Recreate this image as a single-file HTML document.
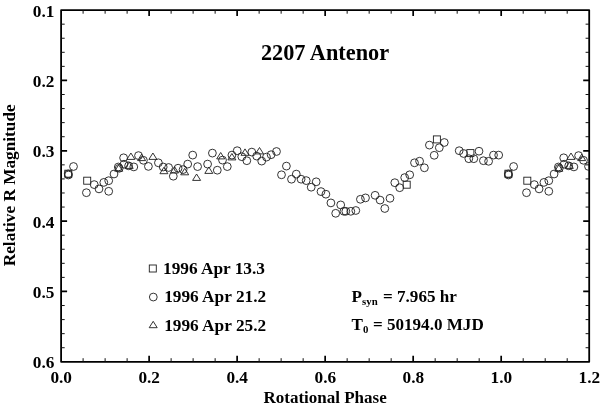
<!DOCTYPE html>
<html lang="en">
<head>
<meta charset="utf-8">
<title>2207 Antenor</title>
<style>
html,body{margin:0;padding:0;background:#fff;}
body{width:600px;height:408px;overflow:hidden;}
svg{display:block;}
</style>
</head>
<body>
<svg width="600" height="408" viewBox="0 0 600 408">
<rect width="600" height="408" fill="#fff"/>
<rect x="61.1" y="10.1" width="528.1" height="351.7" fill="none" stroke="#000" stroke-width="1.8" stroke-linejoin="round"/>
<path d="M149.12 361.8v-6.0M149.12 10.1v6.0M237.13 361.8v-6.0M237.13 10.1v6.0M325.15 361.8v-6.0M325.15 10.1v6.0M413.17 361.8v-6.0M413.17 10.1v6.0M501.18 361.8v-6.0M501.18 10.1v6.0M61.1 80.44h6.0M589.2 80.44h-6.0M61.1 150.78h6.0M589.2 150.78h-6.0M61.1 221.12h6.0M589.2 221.12h-6.0M61.1 291.46h6.0M589.2 291.46h-6.0" stroke="#000" stroke-width="1.7" fill="none"/><path d="M83.10 361.8v-3.6M83.10 10.1v3.6M105.11 361.8v-3.6M105.11 10.1v3.6M127.11 361.8v-3.6M127.11 10.1v3.6M171.12 361.8v-3.6M171.12 10.1v3.6M193.12 361.8v-3.6M193.12 10.1v3.6M215.13 361.8v-3.6M215.13 10.1v3.6M259.14 361.8v-3.6M259.14 10.1v3.6M281.14 361.8v-3.6M281.14 10.1v3.6M303.15 361.8v-3.6M303.15 10.1v3.6M347.15 361.8v-3.6M347.15 10.1v3.6M369.16 361.8v-3.6M369.16 10.1v3.6M391.16 361.8v-3.6M391.16 10.1v3.6M435.17 361.8v-3.6M435.17 10.1v3.6M457.18 361.8v-3.6M457.18 10.1v3.6M479.18 361.8v-3.6M479.18 10.1v3.6M523.19 361.8v-3.6M523.19 10.1v3.6M545.19 361.8v-3.6M545.19 10.1v3.6M567.20 361.8v-3.6M567.20 10.1v3.6M61.1 24.17h3.6M589.2 24.17h-3.6M61.1 38.24h3.6M589.2 38.24h-3.6M61.1 52.30h3.6M589.2 52.30h-3.6M61.1 66.37h3.6M589.2 66.37h-3.6M61.1 94.51h3.6M589.2 94.51h-3.6M61.1 108.58h3.6M589.2 108.58h-3.6M61.1 122.64h3.6M589.2 122.64h-3.6M61.1 136.71h3.6M589.2 136.71h-3.6M61.1 164.85h3.6M589.2 164.85h-3.6M61.1 178.92h3.6M589.2 178.92h-3.6M61.1 192.98h3.6M589.2 192.98h-3.6M61.1 207.05h3.6M589.2 207.05h-3.6M61.1 235.19h3.6M589.2 235.19h-3.6M61.1 249.26h3.6M589.2 249.26h-3.6M61.1 263.32h3.6M589.2 263.32h-3.6M61.1 277.39h3.6M589.2 277.39h-3.6M61.1 305.53h3.6M589.2 305.53h-3.6M61.1 319.60h3.6M589.2 319.60h-3.6M61.1 333.66h3.6M589.2 333.66h-3.6M61.1 347.73h3.6M589.2 347.73h-3.6" stroke="#111" stroke-width="1" fill="none"/>
<clipPath id="fr"><rect x="61.1" y="10.1" width="528.1" height="351.7"/></clipPath>
<g fill="none" stroke="#222" stroke-width="0.92" clip-path="url(#fr)">
<circle cx="68.2" cy="173.9" r="3.9"/>
<circle cx="68.4" cy="175.0" r="3.9"/>
<circle cx="73.5" cy="166.5" r="3.9"/>
<circle cx="86.4" cy="192.7" r="3.9"/>
<circle cx="94.2" cy="184.6" r="3.9"/>
<circle cx="99.0" cy="188.9" r="3.9"/>
<circle cx="103.8" cy="182.4" r="3.9"/>
<circle cx="108.7" cy="180.7" r="3.9"/>
<circle cx="108.7" cy="191.3" r="3.9"/>
<circle cx="114.0" cy="174.0" r="3.9"/>
<circle cx="118.3" cy="167.0" r="3.9"/>
<circle cx="119.2" cy="168.3" r="3.9"/>
<circle cx="123.6" cy="157.8" r="3.9"/>
<circle cx="124.0" cy="164.2" r="3.9"/>
<circle cx="128.6" cy="165.8" r="3.9"/>
<circle cx="133.8" cy="166.9" r="3.9"/>
<circle cx="138.5" cy="155.6" r="3.9"/>
<circle cx="143.4" cy="160.3" r="3.9"/>
<circle cx="148.4" cy="166.4" r="3.9"/>
<circle cx="158.4" cy="162.8" r="3.9"/>
<circle cx="163.2" cy="167.0" r="3.9"/>
<circle cx="168.6" cy="167.5" r="3.9"/>
<circle cx="173.3" cy="176.2" r="3.9"/>
<circle cx="178.1" cy="168.2" r="3.9"/>
<circle cx="183.1" cy="169.6" r="3.9"/>
<circle cx="187.7" cy="164.1" r="3.9"/>
<circle cx="192.7" cy="155.1" r="3.9"/>
<circle cx="197.6" cy="166.6" r="3.9"/>
<circle cx="207.6" cy="164.1" r="3.9"/>
<circle cx="212.4" cy="153.1" r="3.9"/>
<circle cx="217.3" cy="170.2" r="3.9"/>
<circle cx="222.5" cy="160.1" r="3.9"/>
<circle cx="227.3" cy="166.6" r="3.9"/>
<circle cx="231.9" cy="155.1" r="3.9"/>
<circle cx="237.2" cy="150.7" r="3.9"/>
<circle cx="241.8" cy="156.7" r="3.9"/>
<circle cx="246.8" cy="160.7" r="3.9"/>
<circle cx="251.8" cy="152.1" r="3.9"/>
<circle cx="256.7" cy="156.1" r="3.9"/>
<circle cx="261.7" cy="161.1" r="3.9"/>
<circle cx="266.5" cy="157.1" r="3.9"/>
<circle cx="271.1" cy="154.7" r="3.9"/>
<circle cx="276.5" cy="151.5" r="3.9"/>
<circle cx="281.5" cy="174.8" r="3.9"/>
<circle cx="286.4" cy="166.1" r="3.9"/>
<circle cx="291.5" cy="179.2" r="3.9"/>
<circle cx="296.3" cy="174.1" r="3.9"/>
<circle cx="301.1" cy="179.2" r="3.9"/>
<circle cx="306.2" cy="180.6" r="3.9"/>
<circle cx="311.2" cy="187.2" r="3.9"/>
<circle cx="316.2" cy="181.8" r="3.9"/>
<circle cx="321.0" cy="191.6" r="3.9"/>
<circle cx="325.9" cy="194.2" r="3.9"/>
<circle cx="330.9" cy="202.9" r="3.9"/>
<circle cx="335.7" cy="213.3" r="3.9"/>
<circle cx="340.7" cy="204.9" r="3.9"/>
<circle cx="343.9" cy="211.3" r="3.9"/>
<circle cx="345.8" cy="211.3" r="3.9"/>
<circle cx="350.8" cy="211.3" r="3.9"/>
<circle cx="355.8" cy="210.5" r="3.9"/>
<circle cx="360.4" cy="199.3" r="3.9"/>
<circle cx="365.5" cy="197.9" r="3.9"/>
<circle cx="375.1" cy="195.3" r="3.9"/>
<circle cx="380.1" cy="200.1" r="3.9"/>
<circle cx="384.8" cy="208.5" r="3.9"/>
<circle cx="390.0" cy="198.3" r="3.9"/>
<circle cx="394.8" cy="182.7" r="3.9"/>
<circle cx="399.7" cy="187.7" r="3.9"/>
<circle cx="404.7" cy="177.6" r="3.9"/>
<circle cx="409.7" cy="174.8" r="3.9"/>
<circle cx="414.5" cy="162.8" r="3.9"/>
<circle cx="419.6" cy="161.2" r="3.9"/>
<circle cx="424.4" cy="167.8" r="3.9"/>
<circle cx="429.4" cy="145.1" r="3.9"/>
<circle cx="434.2" cy="155.3" r="3.9"/>
<circle cx="439.3" cy="147.7" r="3.9"/>
<circle cx="444.3" cy="142.5" r="3.9"/>
<circle cx="459.2" cy="150.7" r="3.9"/>
<circle cx="463.6" cy="153.5" r="3.9"/>
<circle cx="468.8" cy="158.7" r="3.9"/>
<circle cx="473.8" cy="158.7" r="3.9"/>
<circle cx="479.0" cy="151.2" r="3.9"/>
<circle cx="483.4" cy="160.7" r="3.9"/>
<circle cx="488.6" cy="161.3" r="3.9"/>
<circle cx="493.5" cy="155.1" r="3.9"/>
<circle cx="498.7" cy="155.1" r="3.9"/>
<circle cx="508.3" cy="173.9" r="3.9"/>
<circle cx="508.5" cy="175.0" r="3.9"/>
<circle cx="513.6" cy="166.5" r="3.9"/>
<circle cx="526.5" cy="192.7" r="3.9"/>
<circle cx="534.3" cy="184.6" r="3.9"/>
<circle cx="539.1" cy="188.9" r="3.9"/>
<circle cx="543.9" cy="182.4" r="3.9"/>
<circle cx="548.8" cy="180.7" r="3.9"/>
<circle cx="548.8" cy="191.3" r="3.9"/>
<circle cx="554.1" cy="174.0" r="3.9"/>
<circle cx="558.4" cy="167.0" r="3.9"/>
<circle cx="559.3" cy="168.3" r="3.9"/>
<circle cx="563.7" cy="157.8" r="3.9"/>
<circle cx="564.1" cy="164.2" r="3.9"/>
<circle cx="568.7" cy="165.8" r="3.9"/>
<circle cx="573.9" cy="166.9" r="3.9"/>
<circle cx="578.6" cy="155.6" r="3.9"/>
<circle cx="583.5" cy="160.3" r="3.9"/>
<circle cx="588.5" cy="166.4" r="3.9"/>
<rect x="64.8" y="170.2" width="7.0" height="7.0"/>
<rect x="83.7" y="177.2" width="7.0" height="7.0"/>
<rect x="403.2" y="181.2" width="7.0" height="7.0"/>
<rect x="433.4" y="135.9" width="7.0" height="7.0"/>
<rect x="466.9" y="149.6" width="7.0" height="7.0"/>
<rect x="504.9" y="170.2" width="7.0" height="7.0"/>
<rect x="523.8" y="177.2" width="7.0" height="7.0"/>
<path d="M114.7 171.2L122.7 171.2L118.7 164.8Z"/>
<path d="M125.2 168.4L133.2 168.4L129.2 162.0Z"/>
<path d="M126.9 159.4L134.9 159.4L130.9 153.0Z"/>
<path d="M137.6 160.6L145.6 160.6L141.6 154.2Z"/>
<path d="M148.9 159.4L156.9 159.4L152.9 153.0Z"/>
<path d="M159.9 173.7L167.9 173.7L163.9 167.3Z"/>
<path d="M170.5 173.0L178.5 173.0L174.5 166.6Z"/>
<path d="M180.7 174.8L188.7 174.8L184.7 168.4Z"/>
<path d="M192.6 180.4L200.6 180.4L196.6 174.0Z"/>
<path d="M204.8 173.4L212.8 173.4L208.8 167.0Z"/>
<path d="M216.7 158.9L224.7 158.9L220.7 152.5Z"/>
<path d="M227.9 159.9L235.9 159.9L231.9 153.5Z"/>
<path d="M241.0 155.3L249.0 155.3L245.0 148.9Z"/>
<path d="M255.5 153.9L263.5 153.9L259.5 147.5Z"/>
<path d="M554.8 171.2L562.8 171.2L558.8 164.8Z"/>
<path d="M565.3 168.4L573.3 168.4L569.3 162.0Z"/>
<path d="M567.0 159.4L575.0 159.4L571.0 153.0Z"/>
<path d="M577.7 160.6L585.7 160.6L581.7 154.2Z"/>
</g>
<g fill="none" stroke="#222" stroke-width="0.92">
<rect x="149.3" y="265.0" width="7.0" height="7.0"/>
<circle cx="153.3" cy="297.05" r="3.9"/>
<path d="M149.2 327.7L157.2 327.7L153.2 321.3Z"/>
</g>
<g font-family="'Liberation Serif', 'Times New Roman', serif" font-weight="bold" font-size="17" fill="#000"><text x="54.4" y="16.5" text-anchor="end" font-size="17.3">0.1</text>
<text x="54.4" y="86.8" text-anchor="end" font-size="17.3">0.2</text>
<text x="54.4" y="157.2" text-anchor="end" font-size="17.3">0.3</text>
<text x="54.4" y="227.5" text-anchor="end" font-size="17.3">0.4</text>
<text x="54.4" y="297.9" text-anchor="end" font-size="17.3">0.5</text>
<text x="54.4" y="368.2" text-anchor="end" font-size="17.3">0.6</text>
<text x="61.2" y="382.9" text-anchor="middle" font-size="17.3">0.0</text>
<text x="149.2" y="382.9" text-anchor="middle" font-size="17.3">0.2</text>
<text x="237.2" y="382.9" text-anchor="middle" font-size="17.3">0.4</text>
<text x="325.3" y="382.9" text-anchor="middle" font-size="17.3">0.6</text>
<text x="413.3" y="382.9" text-anchor="middle" font-size="17.3">0.8</text>
<text x="501.3" y="382.9" text-anchor="middle" font-size="17.3">1.0</text>
<text x="589.3" y="382.9" text-anchor="middle" font-size="17.3">1.2</text>
<text x="325.1" y="403.4" text-anchor="middle">Rotational Phase</text>
<text transform="translate(15.4 185.3) rotate(-90)" text-anchor="middle" font-size="17.25">Relative R Magnitude</text>
<text x="325" y="59.5" text-anchor="middle" font-size="22.3">2207 Antenor</text>
<text x="163.0" y="273.7" font-size="17.3">1996 Apr 13.3</text>
<text x="164.2" y="302.2" font-size="17.3">1996 Apr 21.2</text>
<text x="164.2" y="330.9" font-size="17.3">1996 Apr 25.2</text>
<text x="351.6" y="302" font-size="17.1">P<tspan font-size="10.8" dy="2.7">syn</tspan><tspan dy="-2.7" dx="1.1"> = 7.965 hr</tspan></text>
<text x="351.6" y="330.3" font-size="17.1">T<tspan font-size="10.8" dy="2.4">0</tspan><tspan dy="-2.4" dx="0.2"> = 50194.0 MJD</tspan></text></g>
</svg>
</body>
</html>
